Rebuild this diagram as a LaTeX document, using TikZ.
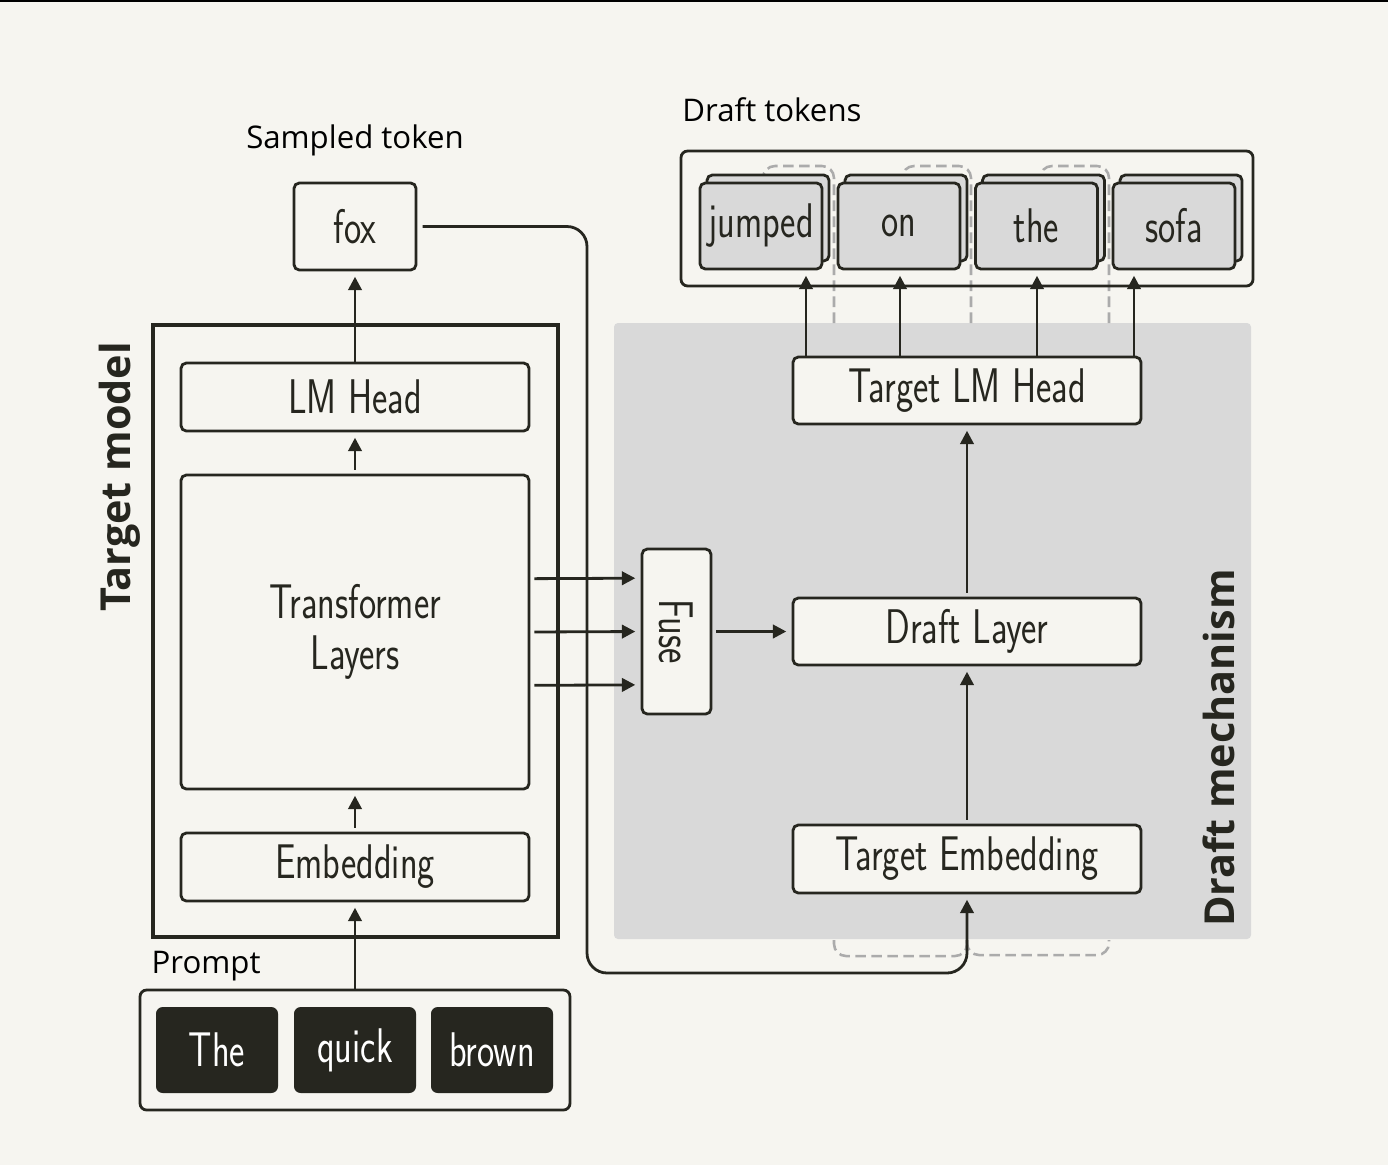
\documentclass[tikz,border=0pt]{standalone}
\usepackage{fontspec}
\setmainfont{Open Sans}
\newfontfamily\boxfont{Latin Modern Sans}[FakeStretch=0.75]
\usetikzlibrary{arrows.meta}
\definecolor{bgc}{HTML}{F6F5F0}
\definecolor{ink}{HTML}{26261F}
\definecolor{panel}{HTML}{D9D9D9}
\definecolor{dashc}{HTML}{ABABAB}
\begin{document}
\begin{tikzpicture}[x=0.75pt,y=-0.75pt,
 sz/.style 2 args={minimum width=#1*0.75pt, minimum height=#2*0.75pt},
 box/.style={draw=ink, line width=2.1pt, rounded corners=4pt, fill=bgc, inner sep=0pt, font=\boxfont\fontsize{36.5}{40}\selectfont, text=ink},
 tok/.style={box, fill=panel, sz={122}{86}},
 ptok/.style={fill=ink, rounded corners=5pt, inner sep=0pt, sz={122}{86}, font=\boxfont\fontsize{36.5}{40}\selectfont, text=white},
 frame/.style={draw=ink, line width=2.1pt, rounded corners=5pt, inner sep=0pt},
 arr/.style={draw=ink, line width=2.1pt, -{Triangle[length=10pt,width=10pt]}, shorten >=4pt},
 dashline/.style={draw=dashc, line width=1.9pt, dash pattern=on 8pt off 4pt},
 lbl/.style={font=\fontsize{23.4}{27}\selectfont, text=black},
 side/.style={font=\bfseries\fontsize{31}{35}\selectfont, rotate=90, text=ink}]
\fill[bgc] (0,0) rectangle (1388,1165);
\useasboundingbox (0,0) rectangle (1388,1165);
\fill[black] (0,0) rectangle (1388,2);

% labels
\node[lbl] (lsampled) at (355,140) {Sampled token};
\node[lbl] (ldraft) at (772,110) {Draft tokens};
\node[lbl, anchor=west] (lprompt) at (147,966) {Prompt};
\node[side] (ltarget) at (120,477) {Target model};

% draft mechanism panel
\node[sz={637}{616}, fill=panel, rounded corners=3pt, inner sep=0pt] (mech) at (932.5,631) {};
\node[side] (lmech) at (1219,748) {Draft mechanism};

% dashed feedback loops
\draw[dashline, rounded corners=9pt] (834,323) |- (763,166) -- (763,180);
\draw[dashline, rounded corners=9pt] (971,323) |- (902,166) -- (902,180);
\draw[dashline, rounded corners=9pt] (1109,323) |- (1040,166) -- (1040,180);
\draw[dashline, rounded corners=9pt] (834,940) |- (967,956) -- (967,940);
\draw[dashline, rounded corners=9pt] (967,940) |- (1109,955) -- (1109,940);

% target model
\node[draw=ink, line width=3pt, inner sep=0pt, sz={405}{612}] (tmodel) at (355.5,631) {};
\node[box, sz={348}{68}] (lmhead) at (355,397) {LM Head};
\node[box, sz={348}{314}, align=center] (trans) at (355,632) {Transformer\\[-2pt]Layers};
\node[box, sz={348}{68}] (emb) at (355,867) {Embedding};
\node[box, sz={122}{87}] (fox) at (355,226.5) {fox};

% prompt
\node[frame, sz={430}{120}] (pframe) at (355,1050) {};
\node[ptok] (tthe) at (217,1050) {The};
\node[ptok] (tquick) at (355,1050) {quick};
\node[ptok] (tbrown) at (492,1050) {brown};

% draft tokens
\node[frame, sz={572}{135}] (dframe) at (967,218.5) {};
\node[tok] (bjumped) at (768,218) {};
\node[tok] (jumped) at (761,226) {jumped};
\node[tok] (bon) at (906,218) {};
\node[tok] (on) at (899,226) {on};
\node[tok] (bthe) at (1043.5,218) {};
\node[tok] (the) at (1036.5,226) {the};
\node[tok] (bsofa) at (1181,218) {};
\node[tok] (sofa) at (1174,226) {sofa};

% draft mechanism boxes
\node[box, sz={165}{69}, rotate=-90] (fuse) at (676.5,631.5) {Fuse};
\node[box, sz={348}{67}] (dlayer) at (967,631.5) {Draft Layer};
\node[box, sz={348}{67}] (tlm) at (967,390.5) {Target LM Head};
\node[box, sz={348}{68}] (temb) at (967,859) {Target Embedding};

% arrows target model
\draw[arr] (pframe.north -| emb) -- (emb.south);
\draw[arr] ([yshift=3pt]emb.north) -- (trans.south);
\draw[arr] ([yshift=3pt]trans.north) -- (lmhead.south);
\draw[arr] (lmhead.north) -- (fox.south);

% transformer to fuse
\draw[arr, shorten <=3pt] ([yshift=40pt]trans.east) -- ([yshift=40pt]fuse.south);
\draw[arr, shorten <=3pt] (trans.east) -- (fuse.south);
\draw[arr, shorten <=3pt] ([yshift=-40pt]trans.east) -- ([yshift=-40pt]fuse.south);
\draw[arr, shorten <=3pt] (fuse.north) -- (dlayer.west);

% draft path
\draw[arr, shorten <=3pt] (temb.north) -- (dlayer.south);
\draw[arr, shorten <=3pt] (dlayer.north) -- (tlm.south);
\draw[arr] (tlm.north -| 806,0) -- (jumped.south -| 806,0);
\draw[arr] (tlm.north -| 900,0) -- (on.south -| 900,0);
\draw[arr] (tlm.north -| 1037,0) -- (the.south -| 1037,0);
\draw[arr] (tlm.north -| 1134,0) -- (sofa.south -| 1134,0);

% sampled token feedback
\draw[arr, rounded corners=15pt, shorten <=4pt] (fox.east) -| (587,973) -| (temb.south);
\end{tikzpicture}
\end{document}
